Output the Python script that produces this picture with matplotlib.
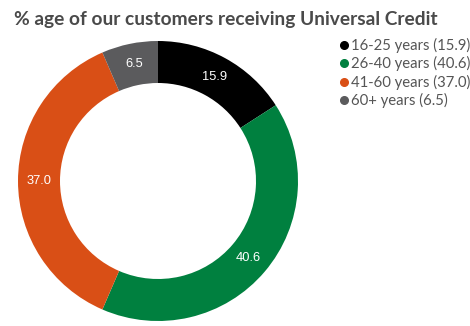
import matplotlib.pyplot as plt
from matplotlib.lines import Line2D

categories = ["16-25 years", "26-40 years", "41-60 years", "60+ years"]
values = [15.9, 40.6, 37.0, 6.5]
value_labels = ["15.9", "40.6", "37.0", "6.5"]
colors = ["#000000", "#00803f", "#d94f16", "#5b5b5d"]

fig = plt.figure(figsize=(4.7, 3.26), dpi=100)
ax = fig.add_axes([0, 0, 1, 1])

cx, cy = 158, 326 - 181
r_out, width = 140, 42

wedges, texts = ax.pie(values, colors=colors, startangle=90, counterclock=False,
                       center=(cx, cy), radius=r_out, labels=value_labels,
                       labeldistance=(r_out - width / 2) / r_out,
                       wedgeprops=dict(width=width, edgecolor="none"),
                       textprops=dict(color="white", fontsize=9.3, ha="center", va="center",
                                      family="Liberation Sans"),
                       frame=True)
ax.set_xlim(0, 470)
ax.set_ylim(0, 326)
ax.set_aspect("equal")
ax.axis("off")

fig.text(14 / 470, 1 - 20 / 326, "% age of our customers receiving Universal Credit",
         fontsize=13.8, fontweight="bold", color="#4a4a4a", family="Lato", va="center")

handles = [Line2D([], [], marker="o", linestyle="none", markersize=5.5,
                  markerfacecolor=c, markeredgecolor=c) for c in colors]
leg_labels = [f"{c} ({v})" for c, v in zip(categories, value_labels)]
fig.legend(handles, leg_labels, loc="upper left", bbox_to_anchor=(340 / 470, 1 - 38 / 326),
           frameon=False, handlelength=0.5, handletextpad=0.25, labelspacing=0.22,
           borderaxespad=0, borderpad=0, prop=dict(family="Lato", size=10.7),
           labelcolor="#555555")

fig.savefig("out.png", dpi=100)
